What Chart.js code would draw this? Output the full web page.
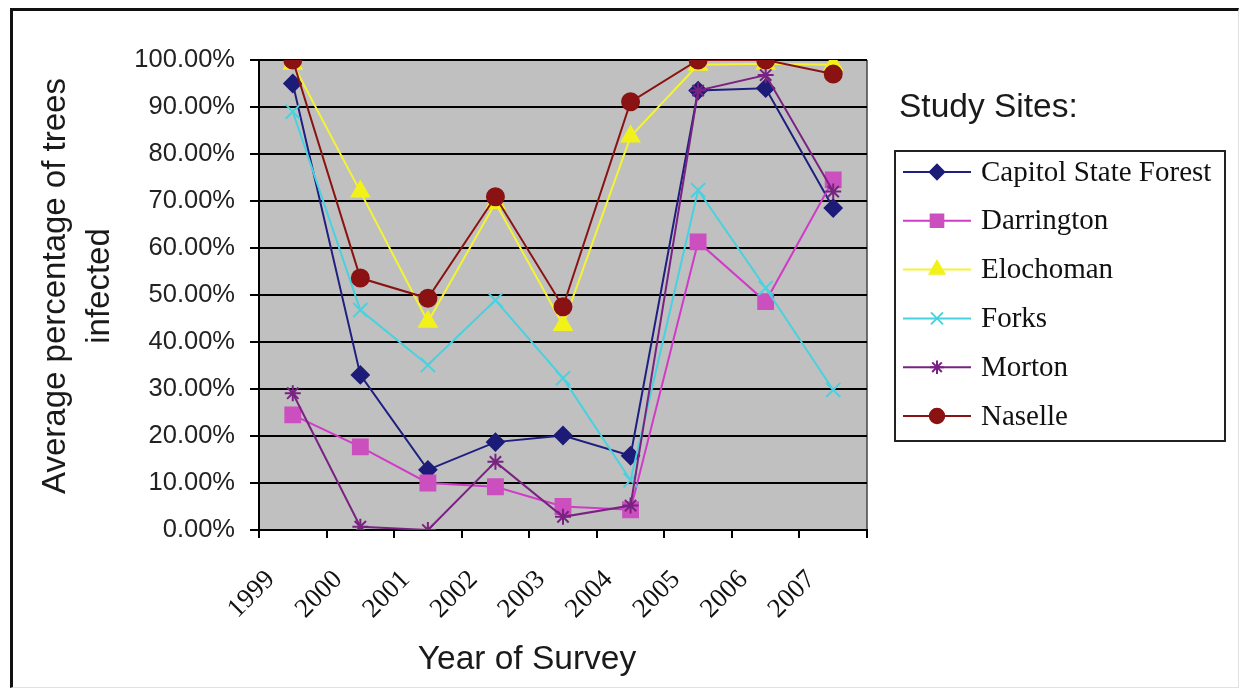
<!DOCTYPE html>
<html>
<head>
<meta charset="utf-8">
<title>Average percentage of trees infected by study site</title>
<script src="https://cdn.jsdelivr.net/npm/chart.js@4/dist/chart.umd.min.js"></script>
<style>
  html, body { margin: 0; padding: 0; background: #fff; }
  #wrap { position: relative; width: 1243px; height: 692px; overflow: hidden; }
  #frame {
    position: absolute; left: 10px; top: 8px; width: 1229px; height: 680px;
    box-sizing: border-box; pointer-events: none;
    border-left: 3px solid #111; border-top: 3px solid #111;
    border-right: 1px solid #e2e2e2; border-bottom: 1px solid #e2e2e2;
  }
  canvas { position: absolute; left: 0; top: 0; }
</style>
</head>
<body>
<div id="wrap">
  <canvas id="chart" width="1243" height="692"></canvas>
  <div id="frame"></div>
</div>
<script>
// Survey years (categories)
const years = ['1999', '2000', '2001', '2002', '2003', '2004', '2005', '2006', '2007'];

// Average percentage of trees infected, per study site
const capitolStateForest = [95.0, 33.0, 12.8, 18.7, 20.1, 15.8, 93.5, 94.0, 68.5];
const darrington         = [24.5, 17.7, 10.0, 9.2, 5.0, 4.3, 61.3, 48.6, 74.5];
const elochoman          = [99.2, 72.0, 44.3, 69.6, 43.6, 83.7, 99.0, 99.2, 99.0];
const forks              = [89.0, 46.8, 35.1, 48.9, 32.3, 10.6, 72.3, 51.5, 29.8];
const morton             = [29.1, 0.7, 0.0, 14.5, 2.8, 5.2, 93.5, 96.8, 72.0];
const naselle            = [100.0, 53.6, 49.3, 70.9, 47.5, 91.1, 100.0, 100.0, 97.0];

// Y axis tick values (percent)
const yTicks = [0, 10, 20, 30, 40, 50, 60, 70, 80, 90, 100];

const siteNames = ['Capitol State Forest', 'Darrington', 'Elochoman', 'Forks', 'Morton', 'Naselle'];
const siteValues = [capitolStateForest, darrington, elochoman, forks, morton, naselle];

const siteStyles = [
  { line: '#1f1f82', fill: '#1c1c78', point: 'rectRot',  radius: 8.5 },
  { line: '#d03cc8', fill: '#cc4fbf', point: 'rect',     radius: 10.5 },
  { line: '#f4f432', fill: '#f2f21a', point: 'triangle', radius: 10 },
  { line: '#48d2df', fill: '#48d2df', point: 'crossRot', radius: 10 },
  { line: '#7a2282', fill: '#7a2282', point: 'star',     radius: 8 },
  { line: '#8a1212', fill: '#8a1212', point: 'circle',   radius: 8.5 }
];

// later sites are painted over earlier ones
const datasets = siteNames.map((name, i) => ({
  label: name,
  data: siteValues[i],
  order: siteNames.length - i,
  borderColor: siteStyles[i].line,
  backgroundColor: siteStyles[i].fill,
  pointBackgroundColor: siteStyles[i].fill,
  pointBorderColor: siteStyles[i].fill,
  pointStyle: siteStyles[i].point,
  pointRadius: siteStyles[i].radius,
  pointBorderWidth: 2,
  borderWidth: 2,
  tension: 0,
  fill: false
}));

const SANS = "'Liberation Sans', Arial, sans-serif";
const SERIF = "'Liberation Serif', 'Times New Roman', serif";

// Grey plot background and frame around the plot area
const plotBackground = {
  id: 'plotBackground',
  beforeDraw(chart) {
    const { ctx, chartArea: a } = chart;
    ctx.save();
    ctx.fillStyle = '#c0c0c0';
    ctx.fillRect(a.left, a.top, a.right - a.left, a.bottom - a.top);
    ctx.strokeStyle = '#444';
    ctx.lineWidth = 1.5;
    ctx.beginPath();
    ctx.moveTo(a.right, a.top);
    ctx.lineTo(a.right, a.bottom);
    ctx.stroke();
    ctx.restore();
  }
};

// Axis titles, legend heading and boxed legend
const annotations = {
  id: 'annotations',
  afterDraw(chart) {
    const { ctx } = chart;
    ctx.save();
    ctx.fillStyle = '#1a1a1a';
    ctx.textBaseline = 'middle';

    // y axis title, two lines rotated
    ctx.font = '33px ' + SANS;
    ctx.textAlign = 'center';
    ctx.save();
    ctx.translate(56, 286);
    ctx.rotate(-Math.PI / 2);
    ctx.fillText('Average percentage of trees', 0, 0);
    ctx.restore();
    ctx.save();
    ctx.translate(100, 286);
    ctx.rotate(-Math.PI / 2);
    ctx.fillText('infected', 0, 0);
    ctx.restore();

    // x axis title
    ctx.font = '33.5px ' + SANS;
    ctx.fillText('Year of Survey', 527, 660);

    // legend heading
    ctx.textAlign = 'left';
    ctx.font = '33.5px ' + SANS;
    ctx.fillText('Study Sites:', 899, 108);

    // legend box
    const box = { x: 895, y: 151, w: 330, h: 290 };
    ctx.strokeStyle = '#222';
    ctx.lineWidth = 2;
    ctx.strokeRect(box.x, box.y, box.w, box.h);

    ctx.font = '29px ' + SERIF;
    chart.data.datasets.forEach((ds, i) => {
      const cy = 172 + i * 48.8;
      ctx.strokeStyle = ds.borderColor;
      ctx.lineWidth = 2;
      ctx.beginPath();
      ctx.moveTo(903, cy);
      ctx.lineTo(971, cy);
      ctx.stroke();
      ctx.fillStyle = ds.pointBackgroundColor;
      ctx.strokeStyle = ds.pointBorderColor;
      Chart.helpers.drawPoint(ctx, {
        pointStyle: ds.pointStyle,
        radius: ds.pointRadius * 0.85,
        borderWidth: 2,
        rotation: 0
      }, 937, cy);
      ctx.fillStyle = '#111';
      ctx.fillText(ds.label, 981, cy + 1);
    });
    ctx.restore();
  }
};

new Chart(document.getElementById('chart'), {
  type: 'line',
  data: { labels: years, datasets },
  plugins: [plotBackground, annotations],
  options: {
    responsive: false,
    animation: false,
    events: [],
    layout: { padding: { left: 12, right: 376, top: 60, bottom: 0 } },
    plugins: {
      legend: { display: false },
      tooltip: { enabled: false },
      title: { display: false }
    },
    scales: {
      x: {
        type: 'category',
        offset: true,
        afterFit(scale) { scale.height = 162; },
        grid: {
          display: true,
          offset: true,
          drawOnChartArea: false,
          drawTicks: true,
          tickLength: 8,
          color: '#000',
          lineWidth: 2
        },
        border: { display: true, color: '#000', width: 2 },
        ticks: {
          autoSkip: false,
          minRotation: 45,
          maxRotation: 45,
          padding: 26,
          labelOffset: -22,
          color: '#111',
          font: { family: SERIF, size: 27 }
        }
      },
      y: {
        min: 0,
        max: 100,
        afterFit(scale) { scale.width = 247; },
        afterBuildTicks(scale) { scale.ticks = yTicks.map(v => ({ value: v })); },
        grid: {
          color: '#000',
          lineWidth: 2,
          drawTicks: true,
          tickLength: 9
        },
        border: { display: true, color: '#000', width: 2 },
        ticks: {
          padding: 15,
          color: '#222',
          font: { family: SANS, size: 25.5 },
          callback: v => Number(v).toFixed(2) + '%'
        }
      }
    }
  }
});
</script>
</body>
</html>
